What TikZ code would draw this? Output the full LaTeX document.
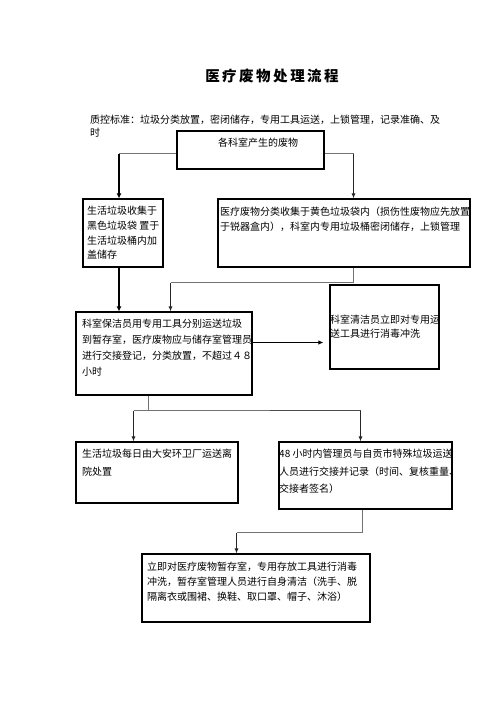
\documentclass[tikz,border=0pt]{standalone}
\usepackage{fontspec}
\newfontfamily\cjk{Noto Sans CJK SC}
\usetikzlibrary{arrows.meta}
\begin{document}
\begin{tikzpicture}[x=1pt,y=-1pt,
  box/.style={draw=black,line width=1.1pt,fill=white,rectangle,inner sep=0pt},
  txt/.style={anchor=north west,inner sep=0pt,align=left,font=\cjk\fontsize{10}{#1}\selectfont},
  txt/.default=15,
  glight/.style={draw=black!55,line width=1pt},
  dark/.style={draw=black!85,line width=1pt,-{Latex[length=5pt,width=4pt]}},
  thickarr/.style={draw=black,line width=2pt,-{Latex[length=5pt,width=5pt]}}]
\useasboundingbox (0,0) rectangle (496,702);

% title and subtitle
\node[font=\cjk\bfseries\fontsize{14.5}{16}\selectfont] (title) at (272,76)
  {医\hspace{2.5pt}疗\hspace{2.5pt}废\hspace{2.5pt}物\hspace{2.5pt}处\hspace{2.5pt}理\hspace{2.5pt}流\hspace{2.5pt}程};
\node[txt=13] (std) at (90,115) {质控标准：垃圾分类放置，密闭储存，专用工具运送，上锁管理，记录准确、及\\时};

% boxes
\node[box,minimum width=147pt,minimum height=38pt] (A) at (250.5,150) {};
\node[box,minimum width=80pt,minimum height=68pt] (B) at (123,233) {};
\node[box,minimum width=252pt,minimum height=68pt] (C) at (344,233) {};
\node[box,minimum width=176pt,minimum height=83pt] (D) at (164,353.5) {};
\node[box,minimum width=109pt,minimum height=84pt] (E) at (384.5,327) {};
\node[box,minimum width=162pt,minimum height=61pt] (F) at (157,472.5) {};
\node[box,minimum width=173pt,minimum height=67pt] (G) at (365.5,475.5) {};
\node[box,minimum width=228pt,minimum height=68pt] (H) at (256,588) {};

% texts
\node[txt] (At) at (218,138) {各科室产生的废物};
\node[txt=14.7] (Bt) at (87,206) {生活垃圾收集于\\黑色垃圾袋 置于\\生活垃圾桶内加\\盖储存};
\node[txt] (Ct) at (220,207) {医疗废物分类收集于黄色垃圾袋内（损伤性废物应先放置\\于锐器盒内），科室内专用垃圾桶密闭储存，上锁管理};
\node[txt=16] (Dt) at (82,319) {科室保洁员用专用工具分别运送垃圾\\到暂存室，医疗废物应与储存室管理员\\进行交接登记，分类放置，不超过４８\\小时};
\node[txt=13.5] (Et) at (330,315) {科室清洁员立即对专用运\\送工具进行消毒冲洗};
\node[txt=17.5] (Ft) at (82,449) {生活垃圾每日由大安环卫厂运送离\\院处置};
\node[txt=17.5] (Gt) at (279,449) {48 小时内管理员与自贡市特殊垃圾运送\\人员进行交接并记录（时间、复核重量、\\交接者签名）};
\node[txt=15] (Ht) at (147,562) {立即对医疗废物暂存室，专用存放工具进行消毒\\冲洗，暂存室管理人员进行自身清洁（洗手、脱\\隔离衣或围裙、换鞋、取口罩、帽子、沐浴）};

% connector coordinates
\coordinate (aL) at (119,153.5);
\coordinate (aR) at (353.5,153.5);
\coordinate (c1) at (170.5,282.5);
\coordinate (de) at (252,342.5);
\coordinate (d1) at (148.5,410.5);
\coordinate (fL) at (133.5,410.5);
\coordinate (gM) at (270,410.5);
\coordinate (gR) at (360.5,410.5);
\coordinate (g1) at (362.5,532.5);
\coordinate (h1) at (236.5,532.5);

\draw[glight] (aL) -- (aL -| A.west);
\draw[glight] (aR -| A.east) -- (aR);
\draw[thickarr] (aL) -- (aL |- B.north);
\draw[dark] (aR) -- (aR |- C.north);
\draw[thickarr] (aL |- B.south) -- (aL |- D.north);
\draw[glight] (aR |- C.south) |- (c1);
\draw[dark] (c1) -- (c1 |- D.north);
\draw[draw=black,line width=1.4pt,-{Latex[length=5pt,width=4.5pt]},shorten >=6pt] (de) -- (de -| E.west);
\draw[glight] (d1 |- D.south) -- (d1);
\draw[glight] (fL) -- (gM);
\draw[draw=black!70,line width=1pt] (gM) -- (gR);
\draw[dark] (fL) -- (fL |- F.north);
\draw[dark] (gR) -- (gR |- G.north);
\draw[glight] (g1 |- G.south) -- (g1) -- (h1);
\draw[dark] (h1) -- (h1 |- H.north);
\end{tikzpicture}
\end{document}
